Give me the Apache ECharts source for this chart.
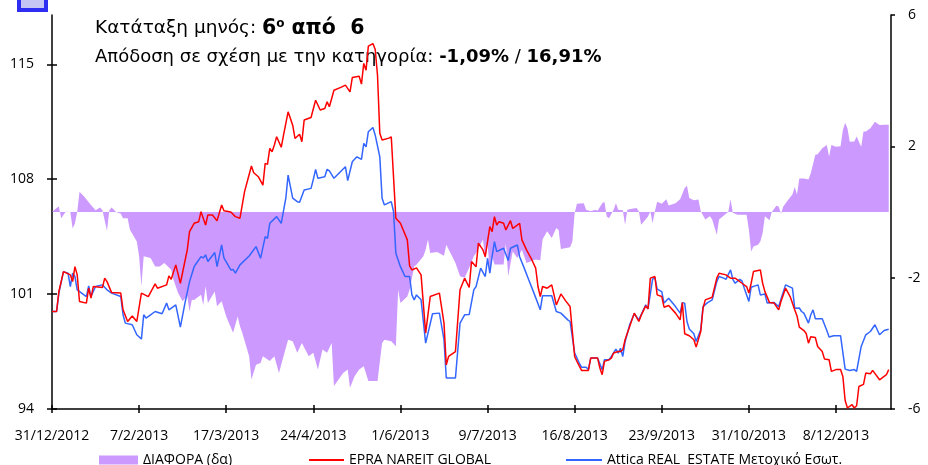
<!DOCTYPE html>
<html><head><meta charset="utf-8">
<script src="https://cdn.jsdelivr.net/npm/echarts@6/dist/echarts.min.js"></script>
<style>html,body{margin:0;padding:0;background:#fff}#c{width:928px;height:465px}</style>
</head><body><div id="c"></div>
<script>
// Days since 31/12/2012
const xTickDays = [0,38,76,114,152,190,228,266,304,342];
const leftTicks = [94,101,108,115];
const rightTicks = [-6,-2,2,6];
const seriesNames = ['ΔΙΑΦΟΡΑ (δα)','EPRA NAREIT GLOBAL','Attica REAL  ESTATE Μετοχικό Εσωτ.'];

const redDays = [0,2,3,5,8,9,10,11,12,15,16,17,18,22,23,24,26,30,31,33,35,37,39,42,45,46,50,51,52,54,56,59,60,62,64,65,67,68,70,72,74,75,78,80,82,84,87,88,90,92,93,94,95,96,97,98,100,101,103,105,106,108,109,110,113,115,117,119,120,121,123,126,128,130,131,134,135,136,137,138,140,141,142,143,144,147,148,150,152,155,156,157,159,161,163,165,169,171,172,173,176,178,180,182,183,185,186,188,189,191,192,193,194,195,197,198,200,201,204,205,207,209,211,212,213,214,216,218,220,222,224,226,228,229,231,234,235,238,239,240,241,243,244,245,247,248,249,250,252,254,256,257,259,260,261,263,264,266,267,269,272,274,275,276,278,280,281,283,284,285,288,290,291,294,296,298,301,303,304,305,306,309,310,311,313,315,317,318,320,322,324,325,326,328,329,330,331,333,334,336,337,339,340,342,344,345,346,347,349,350,351,352,354,355,357,358,361,364,365];
const redValues = [99.94,99.94,101.16,102.37,102.17,101.76,102.67,102.17,100.55,100.45,101.36,100.75,101.46,101.40,101.97,101.76,101.09,101.06,100.04,99.33,99.67,99.33,101.06,100.85,101.62,101.36,101.56,102.11,101.90,102.78,101.66,103.69,104.80,105.31,105.41,106.02,105.21,105.82,105.82,105.47,106.43,106.08,106.0,105.72,105.62,107.24,108.80,108.39,108.15,107.64,108.96,108.9,109.88,109.67,110.08,110.58,109.94,110.68,112.10,111.29,110.48,110.74,110.28,111.60,111.76,112.81,112.21,112.3,112.71,112.41,113.42,113.59,113.73,113.32,114.19,114.27,113.79,115.05,114.64,116.10,116.26,115.90,114.33,110.79,110.38,110.5,110.58,105.62,105.31,104.30,102.72,102.47,102.6,102.17,98.62,100.85,101.06,99.23,96.69,97.20,97.50,101.26,101.97,101.4,102.98,102.67,104.10,103.69,103.28,105.11,104.8,105.72,105.21,105.41,105.31,104.91,105.47,105.0,105.31,104.30,103.69,103.18,102.58,101.46,100.85,101.46,101.36,101.56,100.34,101.01,100.6,100.24,97.20,96.9,96.35,96.35,97.10,97.1,96.5,96.09,96.9,97.0,97.1,97.41,97.5,97.5,97.61,98.22,99.03,99.84,99.33,99.7,100.28,100.1,101.97,102.07,100.95,100.85,100.2,100.3,99.84,99.43,100.48,98.58,98.46,98.22,97.77,98.72,100.14,100.65,100.81,101.97,102.27,102.17,101.97,101.97,101.66,101.46,101.06,101.66,102.37,102.47,101.66,101.15,100.48,100.45,100.04,100.55,101.36,100.85,100.04,99.67,98.99,98.78,98.6,98.01,98.4,98.35,97.81,97.50,97.04,97.0,96.29,96.4,96.4,95.98,94.52,94.06,94.26,94.06,94.2,95.37,95.5,96.19,96.15,96.35,95.78,96.09,96.4];

const blueDays = [0,2,3,5,7,8,9,10,11,15,16,17,19,22,24,26,30,31,32,35,37,39,40,41,43,45,48,50,51,54,56,58,60,62,63,65,66,67,68,71,72,74,75,78,79,80,82,86,89,91,93,94,95,98,100,102,103,105,107,108,110,113,114,115,116,119,120,121,123,128,129,131,133,135,136,137,138,140,141,143,144,145,148,149,150,152,154,156,157,158,159,161,163,166,169,171,172,176,178,180,182,184,185,187,189,190,191,192,193,194,197,199,200,203,204,206,208,210,213,214,218,220,222,225,226,228,230,231,233,234,235,238,240,241,243,244,246,247,248,249,250,252,254,256,259,260,262,263,264,266,267,269,272,274,275,276,277,278,280,281,283,284,286,288,290,291,293,294,296,297,298,300,301,302,304,305,308,309,311,312,315,317,320,323,324,326,327,328,330,331,332,333,336,338,339,341,344,346,348,350,351,353,355,357,359,361,363,365];
const blueValues = [99.94,99.94,101.06,102.37,102.27,101.46,102.27,102.07,101.26,100.85,101.50,100.85,101.46,101.56,101.26,101.06,100.85,99.74,99.23,99.13,98.52,98.26,99.74,99.54,99.74,99.94,99.80,100.45,100.04,100.34,98.99,100.45,101.76,102.67,102.88,103.28,103.2,103.39,102.98,103.53,102.67,104.0,103.2,102.47,102.5,102.27,102.78,103.32,103.89,103.18,104.50,104.4,105.31,105.72,105.31,106.84,108.25,106.84,106.63,106.6,107.34,107.44,107.99,108.60,108.05,108.15,108.6,108.5,108.05,108.76,107.91,109.06,109.36,109.2,110.18,109.97,110.89,111.15,110.68,109.36,106.84,106.43,106.63,106.02,103.49,102.67,102.07,102.07,100.95,100.65,100.95,100.65,98.01,99.80,99.84,98.22,95.89,95.89,99.23,99.74,99.75,101.26,101.46,102.58,102.07,103.18,102.27,103.3,104.19,103.59,103.79,103.04,103.79,103.99,103.28,102.58,101.86,101.15,100.04,100.9,100.9,99.94,99.84,99.43,99.33,97.41,96.80,96.55,96.55,96.4,97.1,97.1,96.4,97.0,97.0,97.2,97.65,97.4,97.7,97.20,98.1,99.13,99.8,99.43,100.35,100.1,101.91,102.0,101.3,101.15,100.45,100.75,100.24,99.84,100.48,100.45,99.33,98.87,98.58,98.11,98.82,100.24,100.48,100.65,101.76,102.07,101.97,101.9,102.47,101.9,101.66,101.9,101.8,101.36,100.55,101.42,101.56,100.95,101.0,100.45,100.48,100.24,101.56,101.36,100.14,100.15,99.94,99.84,99.23,99.74,100.04,99.5,99.5,98.78,98.38,98.46,98.46,96.43,96.35,96.4,96.29,97.81,98.52,98.72,99.13,98.52,98.78,98.86];

const diffDays = [0,2,3,4,6,8,9,10,11,12,14,17,19,21,22,24,25,26,28,30,31,33,34,37,38,39,40,43,45,47,49,52,53,55,57,59,60,61,62,65,66,67,68,71,72,74,76,79,81,82,83,86,87,89,91,92,95,97,99,101,103,105,107,109,112,114,116,118,120,122,123,125,127,129,130,132,134,136,138,142,144,145,148,150,151,152,155,156,158,159,162,163,164,165,168,171,172,174,176,178,180,182,184,185,188,189,190,191,192,193,197,198,199,201,203,205,207,209,211,213,214,216,218,220,221,222,226,227,228,229,232,233,235,237,238,240,241,242,243,245,246,247,249,250,251,253,255,256,257,260,261,262,263,264,266,268,269,272,274,276,277,278,280,282,283,285,287,288,290,291,294,295,296,297,299,303,304,305,306,308,309,310,311,313,314,316,317,318,319,321,323,324,325,326,328,330,331,333,334,336,338,339,340,342,344,345,346,347,348,350,351,353,354,355,357,359,361,363,365];
const diffValues = [0,0.12,0.17,-0.19,0.01,0,-0.5,-0.34,0,0.62,0.47,0.21,0.05,0.14,0.05,-0.57,0.05,0.14,0,-0.05,-0.19,-0.19,-0.54,-0.9,-1.35,-2.26,-1.35,-1.40,-1.66,-1.66,-1.55,-1.76,-2.06,-2.47,-2.72,-2.56,-3.03,-2.67,-2.68,-2.52,-2.83,-2.26,-2.77,-2.42,-2.87,-2.72,-3.18,-3.68,-3.18,-3.48,-3.68,-4.39,-5.1,-4.65,-4.6,-4.39,-4.54,-4.39,-4.9,-4.39,-3.89,-3.94,-4.29,-3.99,-4.39,-4.29,-4.80,-4.19,-4.29,-3.99,-5.30,-5.10,-4.90,-4.8,-5.35,-5.0,-4.8,-4.70,-5.15,-5.15,-3.99,-3.89,-3.94,-4.09,-2.37,-2.77,-2.57,-2.37,-1.66,-1.61,-1.35,-1.15,-0.84,-1.25,-1.22,-1.33,-1.0,-1.27,-1.55,-1.96,-2.0,-1.7,-1.35,-1.25,-0.84,-1.45,-0.95,-1.86,-1.35,-1.6,-1.6,-0.95,-1.96,-1.2,-1.4,-1.15,-1.55,-1.5,-1.45,-1.47,-0.84,-0.59,-0.79,-0.49,-0.55,-1.13,-1.07,-0.9,-0.03,0.25,0.27,0.07,0.02,0.07,0.04,0.27,0.31,-0.14,-0.19,0.07,0.27,0.07,0.05,-0.39,0.07,0.1,0.12,0.02,-0.39,-0.14,0.02,-0.34,0.02,0.31,0.25,0.39,0.2,0.27,0.39,0.73,0.80,0.43,0.36,0.38,0.02,-0.23,-0.13,-0.23,-0.69,-0.23,-0.05,0.0,0.39,-0.02,-0.08,-0.08,-0.54,-1.2,-1.05,-1.0,-0.9,-0.64,-0.13,-0.25,0,0.19,0.17,-0.05,0.17,0.36,0.53,0.76,0.53,1.02,1.02,0.99,1.18,1.74,1.76,1.94,2.04,1.69,2.04,1.99,2.0,2.49,2.72,2.55,2.14,2.15,2.30,1.99,2.45,2.45,2.55,2.75,2.65,2.66,2.66];

const zip = (a,b) => a.map((d,i) => [d, b[i]]);
const BASE = Date.UTC(2012,11,31);
const fmtDay = v => { const d = new Date(BASE + v*86400000); return d.getUTCDate()+'/'+(d.getUTCMonth()+1)+'/'+d.getUTCFullYear(); };

const FONT = '"Open Sans", "DejaVu Sans", sans-serif';
const TFONT = '"DejaVu Sans", sans-serif';
const chart = echarts.init(document.getElementById('c'));
chart.setOption({
  animation:false,
  textStyle:{fontFamily:FONT, color:'#000'},
  grid: {left:52, right:37, top:15, bottom:56},
  xAxis:[{
    type:'value', min:0, max:366, position:'bottom',
    axisLine:{onZero:false, lineStyle:{color:'#000', width:1.5}},
    axisTick:{show:true, length:4, lineStyle:{color:'#000', width:1.5}, customValues: xTickDays},
    axisLabel:{customValues:xTickDays, formatter:fmtDay, fontSize:14, color:'#000', margin:20, fontFamily:FONT},
    splitLine:{show:false}
  },{
    type:'value', min:0, max:366, position:'bottom',
    axisLine:{show:false, onZero:false},
    axisTick:{show:true, inside:true, length:4, lineStyle:{color:'#000', width:1.5}, customValues: xTickDays},
    axisLabel:{show:false}, splitLine:{show:false}
  }],
  yAxis:[{
    type:'value', min:94, max:118, position:'left',
    axisLine:{show:true, onZero:false, lineStyle:{color:'#000', width:1.5}},
    axisTick:{show:true, length:5, lineStyle:{color:'#000', width:1.5}, customValues:leftTicks},
    axisLabel:{customValues:leftTicks, fontSize:14, color:'#000', margin:18, fontFamily:FONT},
    splitLine:{show:false}
  },{
    type:'value', min:-6, max:6, interval:4, position:'right',
    axisLine:{show:true, onZero:false, lineStyle:{color:'#000', width:1.5}},
    axisTick:{show:true, length:4, lineStyle:{color:'#000', width:1.5}},
    axisLabel:{fontSize:14, color:'#000', margin:17, fontFamily:FONT},
    splitLine:{show:false}
  },{
    type:'value', min:94, max:118, position:'left',
    axisLine:{show:false, onZero:false},
    axisTick:{show:true, inside:true, length:5, lineStyle:{color:'#000', width:1.5}, customValues:leftTicks},
    axisLabel:{show:false}, splitLine:{show:false}
  }],
  legend:[
    {data:[seriesNames[0]], left:99, top:453, padding:0, icon:'rect', itemWidth:39, itemHeight:9, itemGap:4, textStyle:{fontSize:14, fontFamily:FONT, color:'#000'}},
    {data:[seriesNames[1]], left:309, top:453, padding:0, icon:'rect', itemWidth:35, itemHeight:2, textStyle:{fontSize:14, fontFamily:FONT, color:'#000'}},
    {data:[seriesNames[2]], left:566, top:453, padding:0, icon:'rect', itemWidth:36, itemHeight:2, textStyle:{fontSize:14, fontFamily:FONT, color:'#000'}}
  ],
  graphic:[
    {type:'rect', left:17, top:-10, shape:{width:27, height:18}, style:{fill:'#c6c6f4', stroke:'#2e2ef2', lineWidth:4}},
    {type:'text', left:95, top:18, style:{rich:{
        n:{fontSize:18.5, fontFamily:TFONT, fill:'#000'},
        b:{fontSize:20.5, fontFamily:TFONT, fontWeight:'bold', fill:'#000'},
        s:{fontSize:12, fontFamily:TFONT, fontWeight:'bold', fill:'#000', verticalAlign:'top', padding:[0,7,9,0]}
      }, text:'{n|Κατάταξη μηνός: }{b|6}{s|ο}{b|από  6}'}},
    {type:'text', left:95, top:48, style:{rich:{
        n:{fontSize:18, fontFamily:TFONT, fill:'#000'},
        b:{fontSize:18, fontFamily:TFONT, fontWeight:'bold', fill:'#000'}
      }, text:'{n|Απόδοση σε σχέση με την κατηγορία: }{b|-1,09%}{n| / }{b|16,91%}'}}
  ],
  series:[
    {name:seriesNames[0], type:'line', xAxisIndex:0, yAxisIndex:1, data:zip(diffDays,diffValues), showSymbol:false,
     itemStyle:{color:'#cc99ff'}, lineStyle:{width:0, color:'#cc99ff'}, areaStyle:{color:'#cc99ff', opacity:1, origin:0}, z:1},
    {name:seriesNames[1], type:'line', xAxisIndex:0, yAxisIndex:0, data:zip(redDays,redValues), showSymbol:false,
     itemStyle:{color:'#ff0000'}, lineStyle:{width:1.5, color:'#ff0000'}, z:3},
    {name:seriesNames[2], type:'line', xAxisIndex:0, yAxisIndex:0, data:zip(blueDays,blueValues), showSymbol:false,
     itemStyle:{color:'#3366ff'}, lineStyle:{width:1.5, color:'#3366ff'}, z:2}
  ]
});
</script></body></html>
